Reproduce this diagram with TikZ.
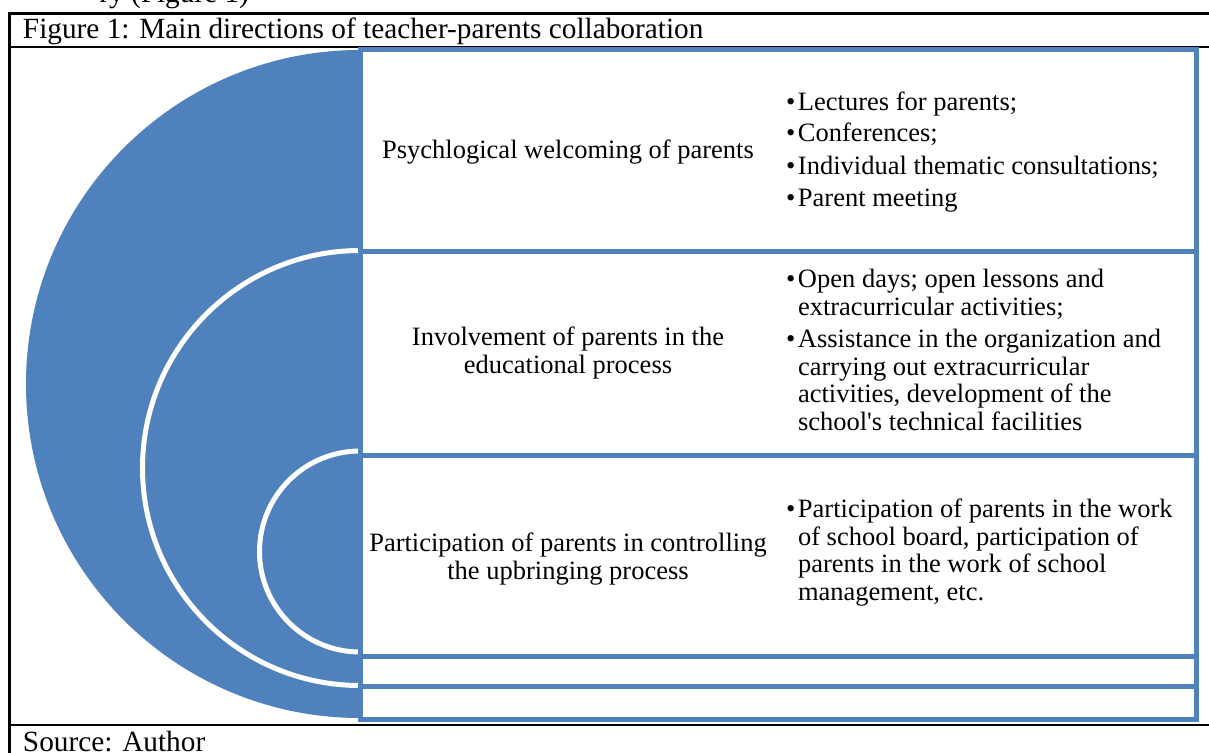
\documentclass[tikz,border=0pt]{standalone}
\usepackage{fontspec}
\setmainfont{Liberation Serif}
\newfontfamily\rawserif{Liberation Serif}[Ligatures=TeXOff]
\definecolor{officeblue}{HTML}{4F81BD}
\newcommand\bitem{\makebox[12pt][l]{\textbullet}}
\newcommand\bind{\hspace*{12pt}}
\newcommand\apos{{\rawserif'}}
\begin{document}
\begin{tikzpicture}[x=1pt,y=-1pt,
  txt/.style={font=\fontsize{26.5}{27.5}\selectfont, inner sep=0pt, outer sep=0pt},
  bigtxt/.style={font=\fontsize{29.3}{30}\selectfont, inner sep=0pt, outer sep=0pt},
  lab/.style={txt, align=center, anchor=base},
  bul/.style={txt, align=left, anchor=base west},
  boxst/.style={draw=officeblue, line width=5pt, fill=white, anchor=north west, inner sep=0pt, outer sep=0pt, minimum width=836pt},
  frame/.style={line width=2.5pt, black},
  whitearc/.style={draw=white, line width=5pt}
]
\useasboundingbox (0,0) rectangle (1209,752);
% cut-off text above the frame
\node[bigtxt, anchor=base east] (prev) at (249,3) {ry (Figure 1)};
% frame
\draw[frame] (9.5,13.5) -- (1215,13.5);
\draw[frame] (9.5,47) -- (1215,47);
\draw[frame] (9.5,725) -- (1215,725);
\draw[frame] (9.5,12.2) -- (9.5,760);
\node[bigtxt, anchor=base west] (title) at (23,39) {Figure 1: Main directions of teacher-parents collaboration};
\node[bigtxt, anchor=base west] (source) at (23,751) {Source: Author};
% blue half disc and white arcs
\fill[officeblue] (360,50) arc[start angle=270, end angle=90, radius=334] -- cycle;
\draw[whitearc] (360,250.5) arc[start angle=270, end angle=90, radius=217.5];
\draw[whitearc] (360,451) arc[start angle=270, end angle=90, radius=100.5];
% boxes
\node[boxst, minimum height=201pt] (b1) at (360,50) {};
\node[boxst, minimum height=204pt] (b2) at (360,251) {};
\node[boxst, minimum height=201.5pt] (b3) at (360,455) {};
\node[boxst, minimum height=30pt] (b4) at (360,656.5) {};
\node[boxst, minimum height=33pt] (b5) at (360,686.5) {};
% left labels (base anchor = baseline of last line)
\node[lab] (l1) at (568,158) {Psychlogical welcoming of parents};
\node[lab] (l2) at (568,373.3) {Involvement of parents in the\\educational process};
\node[lab] (l3) at (568,579) {Participation of parents in controlling\\the upbringing process};
% bullets box 1
\node[bul] (p1) at (786,110) {\bitem Lectures for parents;};
\node[bul] (p2) at (786,141.7) {\bitem Conferences;};
\node[bul] (p3) at (786,174.3) {\bitem Individual thematic consultations;};
\node[bul] (p4) at (786,206.7) {\bitem Parent meeting};
% bullets box 2
\node[bul] (q1) at (786,315) {\bitem Open days; open lessons and\\\bind extracurricular activities;};
\node[bul] (q2) at (786,430) {\bitem Assistance in the organization and\\\bind carrying out extracurricular\\\bind activities, development of the\\\bind school\apos s technical facilities};
% bullets box 3
\node[bul] (r1) at (786,600) {\bitem Participation of parents in the work\\\bind of school board, participation of\\\bind parents in the work of school\\\bind management, etc.};
\end{tikzpicture}
\end{document}
